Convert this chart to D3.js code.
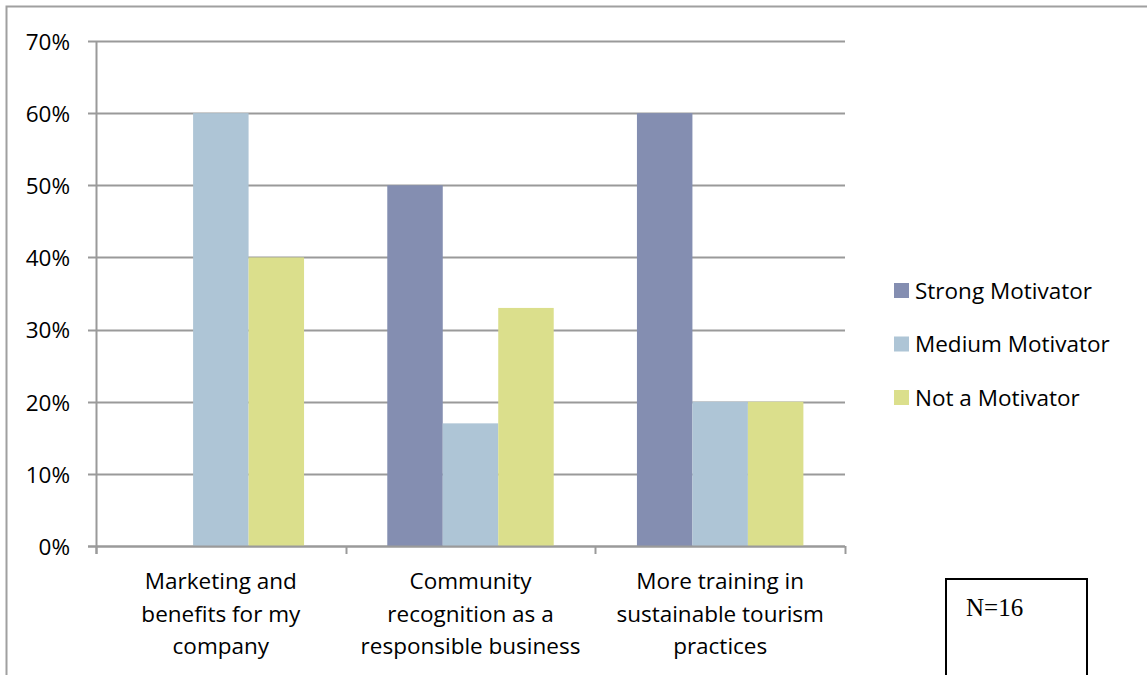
<!DOCTYPE html>
<html>
<head>
<meta charset="utf-8">
<script src="https://cdn.jsdelivr.net/npm/d3@7"></script>
<style>
  body { margin: 0; background: #fff; }
  svg { display: block; }
</style>
</head>
<body>
<div id="chart"></div>
<script>
// chart data
var categories = [
    ["Marketing and", "benefits for my", "company"],
    ["Community", "recognition as a", "responsible business"],
    ["More training in", "sustainable tourism", "practices"]
];
var seriesNames = ["Strong Motivator", "Medium Motivator", "Not a Motivator"];
var strongValues = [0, 50, 60];
var mediumValues = [60, 17, 20];
var notValues = [40, 33, 20];
var yTicks = [0, 10, 20, 30, 40, 50, 60, 70];

var colors = ["#848eb1", "#aec5d6", "#dbdf8c"];
var labelFont = "'Open Sans', Lato, sans-serif";

var w = 1147;
var h = 675;

var svg = d3.select("#chart").append("svg").attr("width", w).attr("height", h);

//outer frame (top and left only visible)
svg.append("path")
    .attr("d", "M6.5," + h + " L6.5,6.5 L" + w + ",6.5")
    .attr("fill", "none")
    .attr("stroke", "#a0a0a0")
    .attr("stroke-width", 2);

var plotLeft = 96, plotRight = 845, plotTop = 41, plotBottom = 546;

var xScale = d3.scaleBand().domain(d3.range(categories.length)).range([plotLeft, plotRight]);
var yScale = d3.scaleLinear().domain([0, 70]).range([plotBottom, plotTop]);

//inner band for the three series, excel style gap width 150%
var inner = d3.scaleBand().domain(d3.range(seriesNames.length))
    .range([0, xScale.bandwidth()])
    .paddingInner(0)
    .paddingOuter(0.75);

//gridlines
svg.append("g").selectAll("line").data(yTicks).enter().append("line")
    .attr("x1", plotLeft - 8)
    .attr("x2", plotRight)
    .attr("y1", function (d) { return Math.round(yScale(d)) + 0.5; })
    .attr("y2", function (d) { return Math.round(yScale(d)) + 0.5; })
    .attr("stroke", "#9a9a9a")
    .attr("stroke-width", 2);

// y labels
svg.append("g").selectAll("text").data(yTicks).enter().append("text")
    .attr("x", 70)
    .attr("y", function (d) { return yScale(d) + 1; })
    .attr("dy", "0.35em")
    .attr("text-anchor", "end")
    .attr("font-family", labelFont)
    .attr("font-size", "22.5px")
    .attr("fill", "#000")
    .text(function (d) { return d + "%"; });

//bars
var table = [strongValues, mediumValues, notValues];
var groups = svg.selectAll("g.series").data(table).enter().append("g")
    .attr("class", "series")
    .attr("fill", function (d, i) { return colors[i]; });

groups.each(function (vals, si) {
    d3.select(this).selectAll("rect").data(vals).enter().append("rect")
        .attr("x", function (d, ci) { return xScale(ci) + inner(si); })
        .attr("y", function (d) { return yScale(d); })
        .attr("width", inner.bandwidth())
        .attr("height", function (d) { return yScale(0) - yScale(d); });
});

//axes lines
svg.append("line")
    .attr("x1", plotLeft + 0.5).attr("x2", plotLeft + 0.5)
    .attr("y1", plotTop).attr("y2", plotBottom + 8)
    .attr("stroke", "#9a9a9a").attr("stroke-width", 2);

svg.append("line")
    .attr("x1", plotLeft - 8).attr("x2", plotRight)
    .attr("y1", plotBottom + 0.5).attr("y2", plotBottom + 0.5)
    .attr("stroke", "#9a9a9a").attr("stroke-width", 2);

var catTicks = d3.range(categories.length + 1).map(function (i) {
    return i < categories.length ? xScale(i) : plotRight;
});
svg.append("g").selectAll("line").data(catTicks).enter().append("line")
    .attr("x1", function (d) { return Math.round(d) + 0.5; })
    .attr("x2", function (d) { return Math.round(d) + 0.5; })
    .attr("y1", plotBottom)
    .attr("y2", plotBottom + 8)
    .attr("stroke", "#9a9a9a")
    .attr("stroke-width", 2);

// category labels
var catLabels = svg.append("g").selectAll("text").data(categories).enter().append("text")
    .attr("text-anchor", "middle")
    .attr("font-family", labelFont)
    .attr("font-size", "22.5px")
    .attr("fill", "#000");

catLabels.selectAll("tspan").data(function (d, i) {
    return d.map(function (line) { return {line: line, i: i}; });
}).enter().append("tspan")
    .attr("x", function (d) { return xScale(d.i) + xScale.bandwidth() / 2; })
    .attr("y", function (d, j) { return 589 + j * 32.5; })
    .text(function (d) { return d.line; });

//legend
var legend = svg.append("g").selectAll("g").data(seriesNames).enter().append("g")
    .attr("transform", function (d, i) { return "translate(894," + (283 + i * 53.5) + ")"; });

legend.append("rect")
    .attr("width", 15)
    .attr("height", 15)
    .attr("fill", function (d, i) { return colors[i]; });

legend.append("text")
    .attr("x", 21)
    .attr("y", 8)
    .attr("dy", "0.35em")
    .attr("font-family", labelFont)
    .attr("font-size", "22.5px")
    .attr("fill", "#000")
    .text(function (d) { return d; });

//N box
svg.append("rect")
    .attr("x", 946)
    .attr("y", 579)
    .attr("width", 141)
    .attr("height", 120)
    .attr("fill", "#fff")
    .attr("stroke", "#000")
    .attr("stroke-width", 2);

svg.append("text")
    .attr("x", 966)
    .attr("y", 616)
    .attr("font-family", "'Liberation Serif', serif")
    .attr("font-size", "25px")
    .attr("fill", "#000")
    .text("N=16");
</script>
</body>
</html>
